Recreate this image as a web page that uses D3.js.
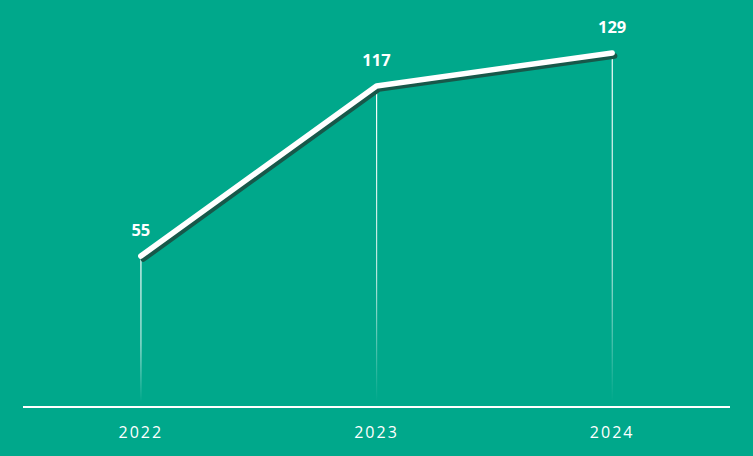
<!DOCTYPE html>
<html><head><meta charset="utf-8">
<script src="https://cdn.jsdelivr.net/npm/d3@7"></script>
<style>html,body{margin:0;padding:0;background:#00A88B;}svg{display:block;}</style>
</head><body>
<script>
const categories = ["2022", "2023", "2024"];
const values = [55, 117, 129];

const W = 753, H = 456;
const svg = d3.select("body").append("svg").attr("width", W).attr("height", H);
svg.append("rect").attr("width", W).attr("height", H).attr("fill", "#00A88B");

const x = d3.scaleBand().domain(categories).range([23, 730]);
const y = d3.scaleLinear().domain([0, 129]).range([407, 53]);
const cx = d => x(d) + x.bandwidth() / 2;

const defs = svg.append("defs");
const grad = defs.append("linearGradient").attr("id", "drop").attr("x1", 0).attr("y1", 0).attr("x2", 0).attr("y2", 1);
grad.append("stop").attr("offset", "0%").attr("stop-color", "#fff").attr("stop-opacity", 1);
grad.append("stop").attr("offset", "60%").attr("stop-color", "#fff").attr("stop-opacity", 0.7);
grad.append("stop").attr("offset", "100%").attr("stop-color", "#fff").attr("stop-opacity", 0);

const data = categories.map((c, i) => ({c, v: values[i]}));

// drop lines
svg.selectAll("rect.drop").data(data).enter().append("rect")
  .attr("class", "drop")
  .attr("x", d => cx(d.c) - 0.5)
  .attr("y", d => y(d.v))
  .attr("width", 1.2)
  .attr("height", d => 402 - y(d.v))
  .attr("fill", "url(#drop)");

// axis line
svg.append("line").attr("x1", 23).attr("x2", 730).attr("y1", 407).attr("y2", 407)
  .attr("stroke", "#fff").attr("stroke-width", 2);

const line = d3.line().x(d => cx(d.c)).y(d => y(d.v));

// shadow
svg.append("path").datum(data).attr("d", line)
  .attr("transform", "translate(2.5,3)")
  .attr("fill", "none").attr("stroke", "#17584A").attr("stroke-width", 5.5)
  .attr("stroke-linecap", "round").attr("stroke-linejoin", "round");
// main line
svg.append("path").datum(data).attr("d", line)
  .attr("fill", "none").attr("stroke", "#fff").attr("stroke-width", 5.5)
  .attr("stroke-linecap", "round").attr("stroke-linejoin", "round");

// value labels
svg.selectAll("text.val").data(data).enter().append("text")
  .attr("class", "val")
  .attr("x", d => cx(d.c))
  .attr("y", d => y(d.v) - 20)
  .attr("text-anchor", "middle")
  .attr("fill", "#fff")
  .attr("font-family", "'Open Sans', 'Liberation Sans', sans-serif")
  .attr("font-weight", "bold")
  .attr("font-size", 16.5)
  .text(d => d.v);

// category labels
svg.selectAll("text.cat").data(categories).enter().append("text")
  .attr("class", "cat")
  .attr("x", d => cx(d))
  .attr("y", 438)
  .attr("text-anchor", "middle")
  .attr("fill", "#fff")
  .attr("font-family", "'Open Sans', 'Liberation Sans', sans-serif")
  .attr("font-size", 16)
  .attr("letter-spacing", "2px")
  .text(d => d);
</script>
</body></html>
